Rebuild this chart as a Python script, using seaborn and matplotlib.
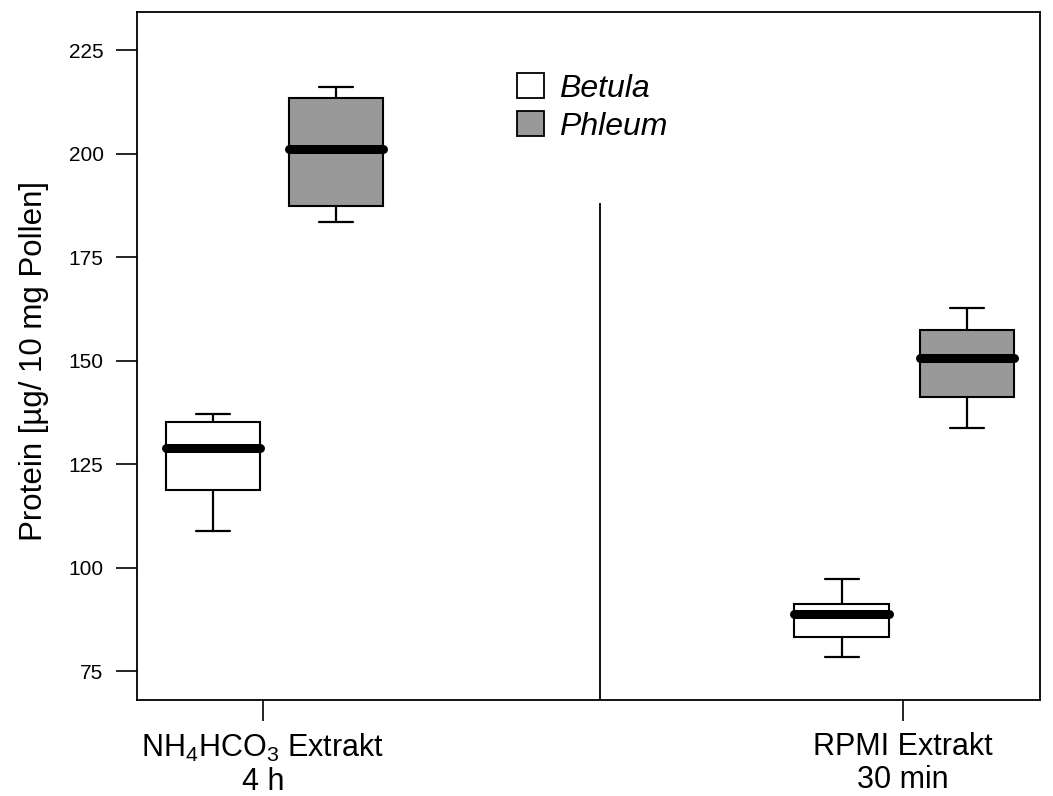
import numpy as np
import pandas as pd
import matplotlib
matplotlib.use("Agg")
import matplotlib.pyplot as plt
from matplotlib.patches import Patch
import seaborn as sns

# Five-number summaries (min, Q1, median, Q3, max) per extract and species
betula_nh4 = [108.9, 118.7, 128.8, 135.1, 137.1]
phleum_nh4 = [183.5, 187.4, 201.0, 213.5, 216.0]
betula_rpmi = [78.5, 83.3, 88.8, 91.1, 97.2]
phleum_rpmi = [133.7, 141.3, 150.7, 157.3, 162.7]

species = ["Betula", "Phleum"]
group_labels = ["NH$_4$HCO$_3$ Extrakt\n4 h", "RPMI Extrakt\n30 min"]

# layout: box centres along the x axis
group_centres = [1.0, 2.0]
box_positions = [0.922, 1.114, 1.904, 2.100]

sns.set_style("white")
plt.rcParams["font.family"] = ["Liberation Sans", "DejaVu Sans"]
plt.rcParams["mathtext.fontset"] = "custom"
plt.rcParams["mathtext.rm"] = "Liberation Sans"
plt.rcParams["mathtext.it"] = "Liberation Sans:italic"
for key in ["text.color", "axes.labelcolor", "xtick.color", "ytick.color", "axes.edgecolor"]:
    plt.rcParams[key] = "black"

series = [betula_nh4, phleum_nh4, betula_rpmi, phleum_rpmi]
series_species = ["Betula", "Phleum", "Betula", "Phleum"]
rows = []
for pos, sp, vals in zip(box_positions, series_species, series):
    for v in vals:
        rows.append({"pos": pos, "species": sp, "value": v})
df = pd.DataFrame(rows)

fig = plt.figure(figsize=(10.53, 7.96), dpi=100)
ax = fig.add_axes([0.130, 0.1206, 0.8577, 0.8643])

palette = {"Betula": "white", "Phleum": "#999999"}
sns.boxplot(
    data=df, x="pos", y="value", hue="species", palette=palette,
    native_scale=True, dodge=False, width=0.77, whis=np.inf,
    linecolor="black", linewidth=1.5, legend=False, ax=ax,
    medianprops=dict(linewidth=6.5, solid_capstyle="round", color="black"),
    whiskerprops=dict(linewidth=1.6), capprops=dict(linewidth=1.6),
    capwidths=0.053,
)

ax.set_xlim(0.803, 2.214)
ax.set_ylim(68.0, 234.2)
ax.set_yticks([75, 100, 125, 150, 175, 200, 225])
ax.set_xticks(group_centres)
ax.set_xticklabels(group_labels, fontsize=22, linespacing=1.15)
ax.tick_params(axis="y", labelsize=15, length=15, width=1.2, direction="out", pad=9, left=True)
ax.tick_params(axis="x", length=15, width=1.2, direction="out", pad=8, bottom=True)
ax.set_xlabel("")
ax.set_ylabel("Protein [µg/ 10 mg Pollen]", fontsize=22.5)
ax.yaxis.set_label_coords(-0.097, 0.493)

for s in ax.spines.values():
    s.set_visible(True)
    s.set_color("black")
    s.set_linewidth(1.3)

# separator between the two extraction methods
ax.vlines(1.527, ax.get_ylim()[0], 188, color="black", linewidth=1.3)

handles = [Patch(facecolor=palette[s], edgecolor="black", linewidth=1.3, label=s) for s in species]
leg = ax.legend(handles=handles, loc="upper left", bbox_to_anchor=(0.407, 0.93),
                frameon=False, prop={"size": 23, "style": "italic"},
                handlelength=0.85, handleheight=0.85, handletextpad=0.45,
                labelspacing=0.22, borderaxespad=0)

fig.savefig("out.png", dpi=100)
